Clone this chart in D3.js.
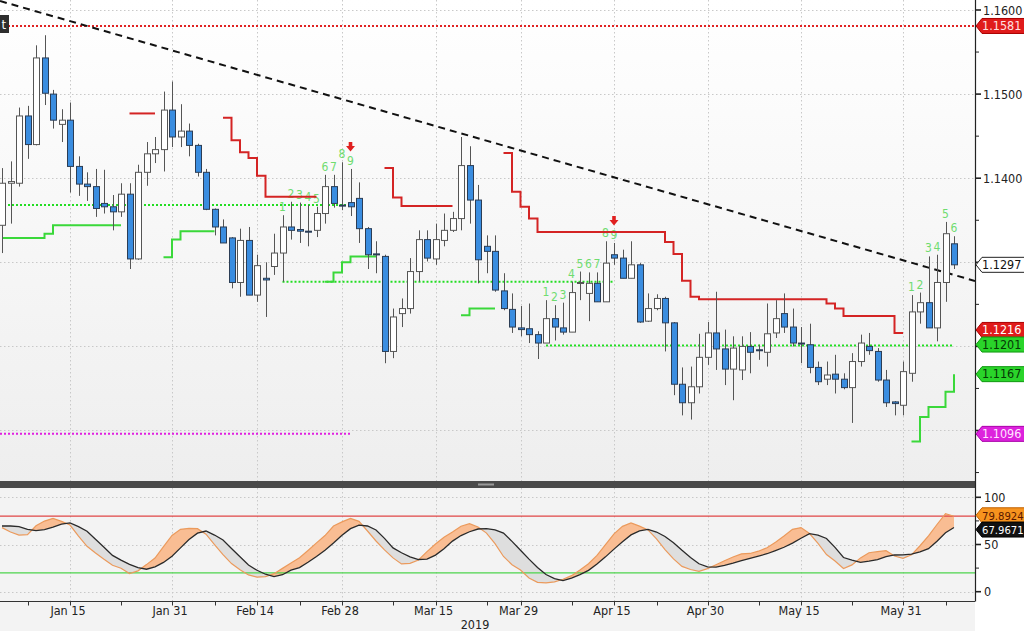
<!DOCTYPE html>
<html><head><meta charset="utf-8">
<script src="https://cdn.jsdelivr.net/npm/d3@7"></script>
<style>
html,body{margin:0;padding:0;background:#fff;}
svg{display:block;font-family:'Liberation Sans Narrow','DejaVu Sans Condensed','Arial Narrow',sans-serif;}
</style></head><body>
<svg id="chart" width="1024" height="631"></svg>
<script>
// ---------- DATA ----------
const firstDate = "2019-01-03";
const candleCount = 113;
const openP = [1.1344,1.1394,1.1394,1.1474,1.1440,1.1543,1.1500,1.1464,1.1469,1.1414,1.1393,1.1390,1.1370,1.1366,1.1360,1.1381,1.1304,1.1407,1.1429,1.1434,
1.1481,1.1449,1.1456,1.1439,1.1407,1.1363,1.1342,1.1329,1.1276,1.1326,1.1261,1.1281,1.1295,1.1311,1.1342,1.1339,1.1337,1.1338,1.1358,1.1390,
1.1368,1.1371,1.1376,1.1340,1.1310,1.1307,1.1194,1.1239,1.1245,1.1289,1.1327,1.1304,1.1326,1.1338,1.1352,1.1415,1.1374,1.1319,1.1313,1.1266,
1.1244,1.1222,1.1221,1.1214,1.1204,1.1233,1.1222,1.1217,1.1275,1.1263,1.1275,1.1253,1.1309,1.1305,1.1281,1.1297,1.1230,1.1245,1.1257,1.1228,
1.1155,1.1133,1.1152,1.1187,1.1216,1.1197,1.1173,1.1172,1.1200,1.1196,1.1193,1.1216,1.1239,1.1223,1.1204,1.1202,1.1175,1.1161,1.1167,1.1161,
1.1151,1.1182,1.1200,1.1194,1.1160,1.1134,1.1130,1.1168,1.1241,1.1252,1.1222,1.1276,1.1322];
const highP = [1.1412,1.1420,1.1484,1.1486,1.1558,1.1570,1.1505,1.1482,1.1490,1.1426,1.1407,1.1411,1.1410,1.1380,1.1394,1.1394,1.1416,1.1443,1.1449,1.1503,
1.1515,1.1488,1.1465,1.1441,1.1411,1.1364,1.1351,1.1330,1.1340,1.1342,1.1309,1.1300,1.1334,1.1356,1.1372,1.1371,1.1368,1.1366,1.1404,1.1404,
1.1419,1.1411,1.1395,1.1342,1.1325,1.1309,1.1245,1.1257,1.1305,1.1338,1.1338,1.1346,1.1358,1.1360,1.1449,1.1438,1.1392,1.1332,1.1332,1.1287,
1.1263,1.1248,1.1251,1.1218,1.1255,1.1249,1.1252,1.1277,1.1289,1.1288,1.1288,1.1325,1.1323,1.1315,1.1325,1.1299,1.1263,1.1262,1.1259,1.1229,
1.1175,1.1176,1.1215,1.1229,1.1265,1.1220,1.1212,1.1212,1.1217,1.1202,1.1251,1.1255,1.1263,1.1245,1.1223,1.1227,1.1182,1.1182,1.1190,1.1168,
1.1192,1.1214,1.1216,1.1198,1.1172,1.1135,1.1182,1.1261,1.1264,1.1307,1.1309,1.1348,1.1331];
const lowP = [1.1311,1.1346,1.1390,1.1423,1.1439,1.1487,1.1459,1.1443,1.1383,1.1379,1.1373,1.1354,1.1358,1.1338,1.1354,1.1292,1.1303,1.1391,1.1418,1.1408,
1.1437,1.1437,1.1426,1.1402,1.1362,1.1332,1.1323,1.1269,1.1259,1.1261,1.1253,1.1235,1.1285,1.1277,1.1327,1.1323,1.1319,1.1330,1.1346,1.1365,
1.1362,1.1355,1.1323,1.1292,1.1287,1.1180,1.1186,1.1223,1.1239,1.1277,1.1301,1.1297,1.1319,1.1336,1.1338,1.1346,1.1275,1.1287,1.1265,1.1243,
1.1216,1.1212,1.1204,1.1185,1.1204,1.1207,1.1214,1.1217,1.1255,1.1230,1.1253,1.1253,1.1297,1.1281,1.1281,1.1228,1.1229,1.1243,1.1194,1.1142,
1.1118,1.1113,1.1144,1.1178,1.1172,1.1154,1.1136,1.1160,1.1168,1.1184,1.1176,1.1210,1.1216,1.1200,1.1180,1.1168,1.1154,1.1154,1.1144,1.1149,
1.1109,1.1176,1.1190,1.1158,1.1128,1.1118,1.1118,1.1158,1.1227,1.1222,1.1206,1.1253,1.1292];
const closeP = [1.1394,1.1396,1.1474,1.1440,1.1543,1.1501,1.1469,1.1469,1.1414,1.1393,1.1390,1.1364,1.1366,1.1360,1.1381,1.1304,1.1407,1.1429,1.1434,1.1481,
1.1449,1.1456,1.1439,1.1407,1.1363,1.1342,1.1323,1.1276,1.1326,1.1261,1.1296,1.1279,1.1311,1.1342,1.1338,1.1337,1.1336,1.1358,1.1390,1.1370,
1.1367,1.1366,1.1340,1.1309,1.1309,1.1194,1.1235,1.1245,1.1289,1.1327,1.1305,1.1327,1.1338,1.1352,1.1415,1.1374,1.1303,1.1313,1.1267,1.1245,
1.1223,1.1220,1.1214,1.1204,1.1233,1.1223,1.1217,1.1264,1.1276,1.1275,1.1253,1.1299,1.1305,1.1281,1.1297,1.1229,1.1245,1.1257,1.1228,1.1155,
1.1133,1.1152,1.1187,1.1216,1.1197,1.1173,1.1198,1.1200,1.1193,1.1195,1.1215,1.1233,1.1223,1.1204,1.1203,1.1175,1.1158,1.1166,1.1161,1.1151,
1.1182,1.1204,1.1195,1.1160,1.1133,1.1132,1.1170,1.1241,1.1252,1.1222,1.1276,1.1334,1.1297];

// stochastic oscillator
const stochK = [67.9,63.2,60.0,60.5,69.8,74.8,77.7,74.5,70.6,58.9,48.1,41.0,34.3,28.0,24.9,19.2,22.1,28.7,35.7,47.7,
59.6,66.1,67.0,66.8,60.9,49.9,39.2,29.8,23.2,17.8,15.4,16.0,19.1,24.7,30.5,36.0,43.7,51.7,59.5,69.6,
74.0,77.7,74.5,64.3,53.7,44.3,35.8,29.4,30.1,33.6,42.4,50.5,57.6,63.2,69.3,72.0,68.5,62.1,51.0,37.3,
28.6,23.0,14.6,9.9,9.3,10.4,13.2,17.0,22.9,29.6,38.4,49.9,61.3,69.2,72.8,69.5,65.4,55.9,44.6,34.7,
26.8,23.5,21.6,24.4,28.5,32.7,36.7,40.1,40.5,42.9,46.6,52.4,59.0,66.1,67.9,61.6,51.3,39.3,32.5,24.6,
28.4,35.8,41.3,42.4,43.4,37.8,35.3,39.1,48.7,59.2,71.2,82.7,79.8924];
const stochD = [69.6,69.6,69.0,66.0,64.8,65.8,68.5,71.5,72.8,69.0,64.0,55.5,47.0,38.5,33.5,29.0,25.5,23.8,26.4,31.0,
37.6,46.4,55.2,62.0,64.3,60.0,54.8,45.8,37.0,28.3,22.7,18.5,16.0,18.0,22.9,25.6,31.2,37.3,43.9,51.6,
59.7,66.8,70.5,69.6,65.4,56.5,46.4,41.3,37.0,34.1,34.5,38.8,45.6,53.6,59.5,63.5,66.4,66.9,65.4,62.1,
53.3,43.9,34.5,25.6,18.2,13.9,11.8,14.4,18.1,22.6,29.4,36.9,45.1,52.9,60.2,64.5,66.1,63.2,58.5,51.9,
43.8,36.2,29.6,26.2,26.1,28.0,30.3,32.9,35.4,37.8,40.2,43.6,47.1,51.5,56.6,61.5,59.9,56.4,47.0,36.2,
33.4,31.1,32.3,34.0,37.1,38.9,39.1,39.8,42.2,45.6,53.5,62.5,67.9671];

// stepped resistance (red) and support (green) lines: start index + values
const redSteps = [
  {start:15, values:[1.1477,1.1477,1.1477,1.1477]},
  {start:26, values:[1.1472,1.1445,1.1431,1.1424,1.1403,1.1378,1.1378,1.1378,1.1378,1.1378,1.1378,1.1378]},
  {start:45, values:[1.1412,1.1377,1.1367,1.1367,1.1367,1.1367,1.1367,1.1367,1.1367]},
  {start:59, values:[1.1430,1.1384,1.1366,1.1352,1.1336,1.1336,1.1336,1.1336,1.1336,1.1336,1.1336,1.1336,1.1336,1.1336,1.1336,1.1336,1.1336,1.1336,1.1336,
    1.1324,1.1310,1.1278,1.1259,1.1256,1.1256,1.1256,1.1256,1.1256,1.1256,1.1256,1.1256,1.1256,1.1256,1.1256,1.1256,1.1256,1.1256,1.1256,
    1.1251,1.1245,1.1236,1.1236,1.1236,1.1236,1.1236,1.1236,1.1216,1.1216]}
];
const greenSteps = [
  {start:0, values:[1.1329,1.1329,1.1329,1.1329,1.1329,1.1334,1.1344,1.1344,1.1344,1.1344,1.1344,1.1344,1.1344,1.1344,1.1344]},
  {start:19, values:[1.1306,1.1327,1.1337,1.1337,1.1337,1.1337,1.1337]},
  {start:38, values:[1.1277,1.1288,1.1300,1.1307,1.1307,1.1307,1.1307]},
  {start:54, values:[1.1237,1.1245,1.1245,1.1245,1.1245]},
  {start:107, values:[1.1087,1.1116,1.1128,1.1128,1.1146,1.1167]}
];
// dotted horizontal levels (from index, to index; null = panel edge)
const dottedLevels = [
  {price:1.1581, from:null, to:null, color:"#e02222"},
  {price:1.1368, from:null, to:41, color:"#22dd22"},
  {price:1.1277, from:33, to:72, color:"#22dd22"},
  {price:1.1201, from:64, to:112, color:"#22dd22"},
  {price:1.1096, from:null, to:41, color:"#e020e0"}
];
// trend line anchors
const trendStart = {idx:0, price:1.1610};
const trendEnd = {idx:112, price:1.1285};
// TD sequential counts
const countIdxA = [33,34,35,36,37,38,39,40,41];
const countIdxB = [64,65,66,67,68,69,70,71,72];
const countIdxC = [107,108,109,110,111,112];
const arrowIdx = [41,72];
// axis ticks
const dateTickDates = ["2019-01-15","2019-01-31","2019-02-14","2019-02-28","2019-03-15","2019-03-29","2019-04-15","2019-04-30","2019-05-15","2019-05-31"];
const dateTickLabels = ["Jan 15","Jan 31","Feb 14","Feb 28","Mar 15","Mar 29","Apr 15","Apr 30","May 15","May 31"];
const minorDateTicks = ["2019-01-08","2019-01-23","2019-02-07","2019-02-21","2019-03-08","2019-03-25","2019-04-08","2019-04-22","2019-05-08","2019-05-23","2019-06-07"];
const yearLabel = "2019";
const priceMajor = [1.16,1.15,1.14,1.13,1.12,1.11];
const priceLabeled = [1.16,1.15,1.14];
const priceMinor = [1.155,1.145,1.135,1.125,1.115,1.105];
const priceTags = [
  {v:1.1581, fill:"#e01b1b", stroke:"#a00", text:"#ffe0e0", dy:0},
  {v:1.1297, fill:"#ffffff", stroke:"#222", text:"#111", dy:0},
  {v:1.1216, fill:"#e01b1b", stroke:"#a00", text:"#fff", dy:-3},
  {v:1.1201, fill:"#2ad42a", stroke:"#119911", text:"#063806", dy:-1},
  {v:1.1167, fill:"#2ad42a", stroke:"#119911", text:"#063806", dy:0},
  {v:1.1096, fill:"#dd22dd", stroke:"#a0a", text:"#ffe6ff", dy:0}
];
const oscMajor = [0,50,100];
const oscMinor = [25,75];
const oscLevels = [{v:80,color:"#e04646"},{v:20,color:"#4cd44c"}];

// ---------- DATES ----------
const dates = [];
{ const d = new Date(firstDate + "T00:00:00Z");
  while (dates.length < candleCount) { const w = d.getUTCDay(); if (w !== 0 && w !== 6) dates.push(d.toISOString().slice(0,10)); d.setUTCDate(d.getUTCDate()+1); } }
const candles = dates.map((dt,i)=>({date:dt,i,o:openP[i],h:highP[i],l:lowP[i],c:closeP[i]}));

// ---------- LAYOUT ----------
const svg = d3.select("#chart");
const W = 1024, H = 631, plotR = 975, upTop = 0, upBot = 481, loTop = 488, loBot = 601.5;
const x = d3.scalePoint().domain(dates).range([2, 954]);
const xi = i => 2 + i*x.step();
const y = d3.scaleLinear().domain([1.16, 1.10]).range([10, 10 + 0.06*8410]);
const yo = d3.scaleLinear().domain([0, 100]).range([591.7, 497.3]);

const defs = svg.append("defs");
const g1 = defs.append("linearGradient").attr("id","bgUp").attr("x1",0).attr("y1",0).attr("x2",0).attr("y2",1);
g1.append("stop").attr("offset","0%").attr("stop-color","#ffffff");
g1.append("stop").attr("offset","100%").attr("stop-color","#eeeeee");
defs.append("clipPath").attr("id","clipUp").append("rect").attr("x",0).attr("y",upTop).attr("width",plotR).attr("height",upBot-upTop);
defs.append("clipPath").attr("id","clipLo").append("rect").attr("x",0).attr("y",loTop).attr("width",plotR).attr("height",loBot-loTop);

svg.append("rect").attr("width",W).attr("height",H).attr("fill","#fff");
svg.append("rect").attr("x",0).attr("y",upTop).attr("width",plotR).attr("height",upBot-upTop).attr("fill","url(#bgUp)");
svg.append("rect").attr("x",0).attr("y",loTop).attr("width",plotR).attr("height",H-loTop).attr("fill","#f3f3f3");

// grids
const grid = svg.append("g").attr("stroke","#c8c8c8").attr("stroke-width",1).attr("stroke-dasharray","1.5,2.5");
grid.selectAll("line.hu").data(priceMajor).join("line").attr("x1",0).attr("x2",plotR)
  .attr("y1",d=>Math.round(y(d))+0.5).attr("y2",d=>Math.round(y(d))+0.5);
grid.selectAll("line.vu").data(dateTickDates).join("line").attr("class","vu")
  .attr("x1",d=>Math.round(x(d))+0.5).attr("x2",d=>Math.round(x(d))+0.5).attr("y1",upTop).attr("y2",upBot);
grid.selectAll("line.ho").data(oscMajor).join("line").attr("class","ho").attr("x1",0).attr("x2",plotR)
  .attr("y1",d=>Math.round(yo(d))+0.5).attr("y2",d=>Math.round(yo(d))+0.5);
grid.selectAll("line.vo").data(dateTickDates).join("line").attr("class","vo")
  .attr("x1",d=>Math.round(x(d))+0.5).attr("x2",d=>Math.round(x(d))+0.5).attr("y1",loTop).attr("y2",loBot);

// ---------- UPPER PANEL ----------
const up = svg.append("g").attr("clip-path","url(#clipUp)");

// TD counts (drawn beneath the level lines, as in the source)
const countGroups = [countIdxA, countIdxB, countIdxC];
countGroups.forEach(arr=>{
  up.selectAll(null).data(arr).join("text")
    .attr("x",d=>xi(d)).attr("y",d=>y(highP[d])-4)
    .attr("text-anchor","middle").attr("font-size",12).attr("fill","#6fdc6f")
    .text((d,k)=>k+1);
});

// dotted levels
up.selectAll("line.lvl").data(dottedLevels).join("line").attr("class","lvl")
  .attr("x1",d=>d.from===null?0:xi(d.from)).attr("x2",d=>d.to===null?plotR:xi(d.to))
  .attr("y1",d=>y(d.price)).attr("y2",d=>y(d.price))
  .attr("stroke",d=>d.color).attr("stroke-width",2).attr("stroke-dasharray","2,2");

// step lines
const stepLine = d3.line().curve(d3.curveStepAfter).x(d=>xi(d.i)).y(d=>y(d.v));
const toPts = s => s.values.map((v,k)=>({i:s.start+k, v}));
up.selectAll("path.red").data(redSteps).join("path").attr("class","red")
  .attr("d",s=>stepLine(toPts(s))).attr("fill","none").attr("stroke","#d42424").attr("stroke-width",2);
up.selectAll("path.grn").data(greenSteps).join("path").attr("class","grn")
  .attr("d",s=>stepLine(toPts(s))).attr("fill","none").attr("stroke","#3ad83a").attr("stroke-width",2);

// trend line
{
  const slope = (y(trendEnd.price)-y(trendStart.price))/(xi(trendEnd.idx)-xi(trendStart.idx));
  const y0 = y(trendStart.price) + (0 - xi(trendStart.idx))*slope;
  const y1 = y(trendStart.price) + (plotR - xi(trendStart.idx))*slope;
  up.append("line").attr("x1",0).attr("y1",y0).attr("x2",plotR).attr("y2",y1)
    .attr("stroke","#111").attr("stroke-width",2).attr("stroke-dasharray","7,5");
}

// candles
const cg = up.append("g");
cg.selectAll("line.wick").data(candles).join("line").attr("class","wick")
  .attr("x1",d=>Math.round(x(d.date))+0.5).attr("x2",d=>Math.round(x(d.date))+0.5)
  .attr("y1",d=>y(d.h)).attr("y2",d=>y(d.l)).attr("stroke","#555").attr("stroke-width",1);
cg.selectAll("rect.body").data(candles).join("rect").attr("class","body")
  .attr("x",d=>Math.round(x(d.date))-2.5).attr("width",6)
  .attr("y",d=>y(Math.max(d.o,d.c)))
  .attr("height",d=>Math.max(1,Math.abs(y(d.o)-y(d.c))))
  .attr("fill",d=>d.c>=d.o?"#ffffff":"#3a8de0")
  .attr("stroke",d=>d.c>=d.o?"#555":"#2b3d55").attr("stroke-width",1);

// red arrows
up.selectAll("path.arr").data(arrowIdx).join("path").attr("class","arr")
  .attr("transform",d=>`translate(${xi(d)},${y(highP[d])-22})`)
  .attr("d","M-1.8,-5 H1.8 V-1 H4.5 L0,4.5 L-4.5,-1 H-1.8 Z").attr("fill","#e02020");

// top-left legend stub
svg.append("rect").attr("x",0).attr("y",15).attr("width",9).attr("height",18).attr("fill","#2e2e2e");
svg.append("text").attr("x",1.5).attr("y",28.5).attr("font-size",13).attr("fill","#fff").text("t");

// ---------- LOWER PANEL ----------
const lo = svg.append("g").attr("clip-path","url(#clipLo)");
const osc = dates.map((dt,i)=>({i, k:stochK[i], d:stochD[i]}));
defs.append("clipPath").attr("id","clipAbove").append("path")
  .attr("d", d3.area().x(p=>xi(p.i)).y0(loTop).y1(p=>yo(p.d))(osc));
defs.append("clipPath").attr("id","clipBelow").append("path")
  .attr("d", d3.area().x(p=>xi(p.i)).y0(loBot).y1(p=>yo(p.d))(osc));
const band = d3.area().x(p=>xi(p.i)).y0(p=>yo(p.d)).y1(p=>yo(p.k));
lo.append("path").attr("d",band(osc)).attr("fill","#f9bd93").attr("clip-path","url(#clipAbove)");
lo.append("path").attr("d",band(osc)).attr("fill","#dedede").attr("clip-path","url(#clipBelow)");
lo.selectAll("line.ol").data(oscLevels).join("line").attr("class","ol")
  .attr("x1",0).attr("x2",plotR).attr("y1",d=>yo(d.v)).attr("y2",d=>yo(d.v))
  .attr("stroke",d=>d.color).attr("stroke-width",1.2);
lo.append("path").attr("d",d3.line().x(p=>xi(p.i)).y(p=>yo(p.k))(osc)).attr("fill","none").attr("stroke","#eb9a5c").attr("stroke-width",1.2);
lo.append("path").attr("d",d3.line().x(p=>xi(p.i)).y(p=>yo(p.d))(osc)).attr("fill","none").attr("stroke","#2a2a2a").attr("stroke-width",1.3);

// separator band
svg.append("rect").attr("x",0).attr("y",481).attr("width",plotR).attr("height",7).attr("fill","#4a4a4a");
svg.append("rect").attr("x",478).attr("y",483.5).attr("width",16).attr("height",2).attr("fill","#9a9a9a");

// ---------- AXES ----------
const ax = svg.append("g").attr("fill","#222").attr("font-size",12.5);
svg.append("line").attr("x1",plotR+0.5).attr("x2",plotR+0.5).attr("y1",0).attr("y2",loBot).attr("stroke","#222").attr("stroke-width",1.2);
svg.append("line").attr("x1",0).attr("x2",plotR).attr("y1",loBot).attr("y2",loBot).attr("stroke","#333").attr("stroke-width",1);
// price ticks
svg.selectAll("line.pt").data(priceMajor).join("line").attr("class","pt")
  .attr("x1",plotR).attr("x2",plotR+6).attr("y1",d=>y(d)).attr("y2",d=>y(d)).attr("stroke","#222").attr("stroke-width",1.6);
svg.selectAll("line.pm").data(priceMinor).join("line").attr("class","pm")
  .attr("x1",plotR).attr("x2",plotR+4).attr("y1",d=>y(d)).attr("y2",d=>y(d)).attr("stroke","#222").attr("stroke-width",1);
ax.selectAll("text.pl").data(priceLabeled).join("text").attr("class","pl")
  .attr("x",plotR+8).attr("y",d=>y(d)+4.5).text(d=>d.toFixed(4));
// osc ticks
svg.selectAll("line.ot").data(oscMajor).join("line").attr("class","ot")
  .attr("x1",plotR).attr("x2",plotR+6).attr("y1",d=>yo(d)).attr("y2",d=>yo(d)).attr("stroke","#222").attr("stroke-width",1.6);
svg.selectAll("line.om").data(oscMinor).join("line").attr("class","om")
  .attr("x1",plotR).attr("x2",plotR+4).attr("y1",d=>yo(d)).attr("y2",d=>yo(d)).attr("stroke","#222").attr("stroke-width",1);
ax.selectAll("text.ol").data(oscMajor).join("text").attr("class","ol")
  .attr("x",plotR+9).attr("y",d=>yo(d)+4.5).text(d=>d);
// date axis
svg.selectAll("line.dt").data(minorDateTicks.concat(dateTickDates)).join("line").attr("class","dt")
  .attr("x1",d=>Math.round(x(d))+0.5).attr("x2",d=>Math.round(x(d))+0.5).attr("y1",loBot).attr("y2",loBot+4).attr("stroke","#333");
ax.selectAll("text.dl").data(dateTickDates).join("text").attr("class","dl")
  .attr("x",d=>x(d)-2).attr("y",loBot+13.5).attr("text-anchor","middle").text((d,k)=>dateTickLabels[k]);
ax.append("text").attr("x",475).attr("y",629).attr("text-anchor","middle").text(yearLabel);

// value tags
function tag(yy, fill, stroke, txt, label, fs){
  const gT = svg.append("g");
  gT.append("path").attr("d",`M${plotR+1},${yy} L${plotR+7},${yy-7.5} L${W+2},${yy-7.5} L${W+2},${yy+7.5} L${plotR+7},${yy+7.5} Z`)
    .attr("fill",fill).attr("stroke",stroke).attr("stroke-width",1);
  gT.append("text").attr("x",plotR+7).attr("y",yy+4.3).attr("font-size",fs).attr("fill",txt).text(label);
}
priceTags.forEach(t=>tag(y(t.v)+t.dy, t.fill, t.stroke, t.text, t.v.toFixed(4), 12.5));
tag(yo(stochK[candleCount-1])-1, "#f7931e", "#c06000", "#5a1800", stochK[candleCount-1].toFixed(4), 11.2);
tag(yo(stochD[candleCount-1])+2, "#111111", "#000", "#fff", stochD[candleCount-1].toFixed(4), 11.2);
</script>
</body></html>
